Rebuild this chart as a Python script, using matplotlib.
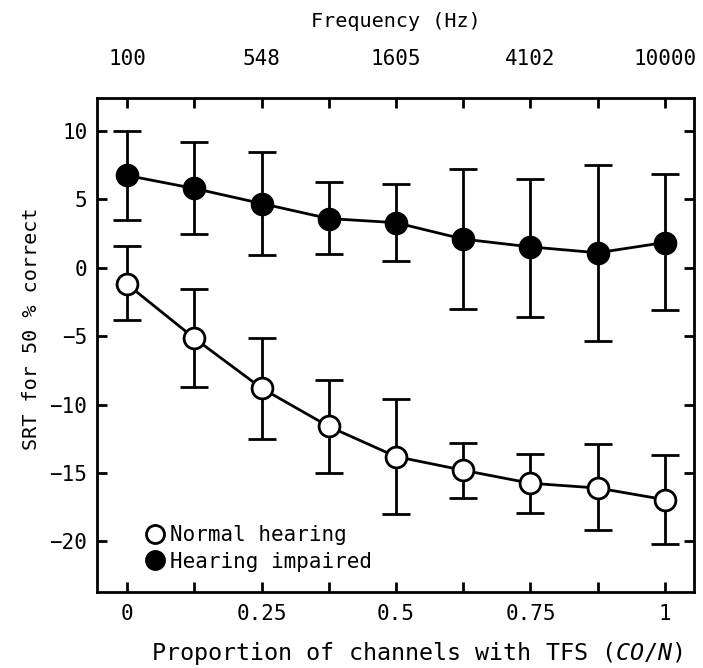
import matplotlib
matplotlib.use("Agg")
import matplotlib.pyplot as plt
from matplotlib.lines import Line2D

x = [0, 0.125, 0.25, 0.375, 0.5, 0.625, 0.75, 0.875, 1.0]
nh_mean = [-1.2, -5.15, -8.8, -11.6, -13.8, -14.8, -15.75, -16.1, -16.95]
nh_upper = [1.58, -1.58, -5.1, -8.2, -9.6, -12.8, -13.6, -12.87, -13.67]
nh_lower = [-3.82, -8.7, -12.5, -15.0, -18.0, -16.8, -17.9, -19.2, -20.2]
hi_mean = [6.75, 5.8, 4.7, 3.6, 3.3, 2.1, 1.53, 1.1, 1.85]
hi_upper = [10.0, 9.2, 8.5, 6.3, 6.1, 7.2, 6.5, 7.55, 6.84]
hi_lower = [3.53, 2.5, 0.9, 1.0, 0.5, -3.0, -3.58, -5.35, -3.09]

xticks = [0, 0.25, 0.5, 0.75, 1]
xticklabels = ["0", "0.25", "0.5", "0.75", "1"]
freq_labels = ["100", "548", "1605", "4102", "10000"]
yticks = [-20, -15, -10, -5, 0, 5, 10]

plt.rcParams['font.family'] = ['DejaVu Sans Mono']
plt.rcParams['mathtext.fontset'] = 'custom'
plt.rcParams['mathtext.it'] = 'DejaVu Sans Mono:italic'
plt.rcParams['mathtext.rm'] = 'DejaVu Sans Mono'
fig = plt.figure(figsize=(7.03, 6.68), dpi=100)
ax = fig.add_axes([0.138, 0.1138, 0.849, 0.7392])

def draw(mean, up, lo, face):
    yerr = [[m - l for m, l in zip(mean, lo)], [u - m for m, u in zip(mean, up)]]
    ax.errorbar(x, mean, yerr=yerr, fmt='-o', color='black', mfc=face, mec='black',
                mew=2, ms=15, lw=2, elinewidth=2, capsize=10, capthick=2, zorder=3)

draw(nh_mean, nh_upper, nh_lower, 'white')
draw(hi_mean, hi_upper, hi_lower, 'black')

ax.set_xlim(-0.056, 1.054)
ax.set_ylim(-23.7, 12.4)
ax.set_xticks(xticks)
ax.set_xticklabels(xticklabels)
ax.set_xticks([0.125, 0.375, 0.625, 0.875], minor=True)
ax.set_yticks(yticks)
ax.tick_params(which='both', direction='in', length=7, width=2, labelsize=15,
               top=True, right=True)
ax.tick_params(axis='x', pad=9)
ax.tick_params(axis='y', pad=7)
for s in ax.spines.values():
    s.set_linewidth(2)

sec = ax.secondary_xaxis('top')
sec.set_xticks(xticks)
sec.set_xticklabels(freq_labels)
sec.tick_params(direction='in', length=0, labelsize=15, pad=21)
sec.spines['top'].set_visible(False)
sec.set_xlabel("Frequency (Hz)", fontsize=14.5, labelpad=16)

ax.set_xlabel("Proportion of channels with TFS $\\mathit{(CO/N)}$", fontsize=16.8)
ax.xaxis.set_label_coords(0.536, -0.097)
ax.set_ylabel("SRT for 50 % correct", fontsize=14.5, labelpad=6)
ax.yaxis.label.set_y(0.534)

handles = [Line2D([], [], ls='none', marker='o', ms=13, mfc='white', mec='black', mew=2),
           Line2D([], [], ls='none', marker='o', ms=13, mfc='black', mec='black', mew=2)]
ax.legend(handles, ["Normal hearing", "Hearing impaired"], loc='lower left',
          bbox_to_anchor=(0.063, 0.02), frameon=False, fontsize=15,
          handletextpad=0.2, labelspacing=0.3, handlelength=1.0, borderpad=0)

fig.savefig("out.png", dpi=100)
